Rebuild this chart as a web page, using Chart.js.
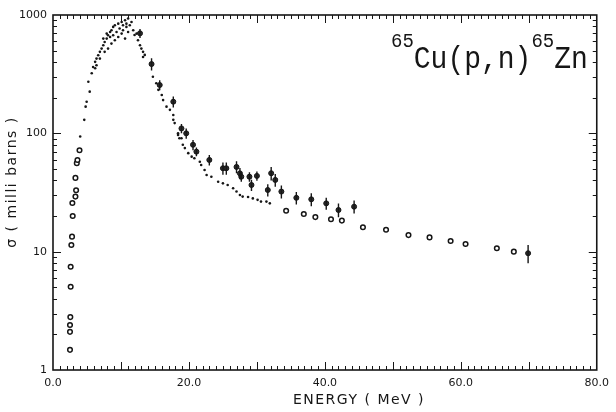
<!DOCTYPE html>
<html>
<head>
<meta charset="utf-8">
<script src="https://cdn.jsdelivr.net/npm/chart.js@4/dist/chart.umd.min.js"></script>
<style>
  html, body { margin: 0; padding: 0; background: #fff; }
</style>
</head>
<body>
<canvas id="xsChart" width="616" height="412"></canvas>
<script>
// 65Cu(p,n)65Zn excitation function
// energy in MeV, cross section in mb

// small dots (dense data set)
const dotEnergy = [4.0, 4.6, 4.8, 4.95, 5.2, 5.4, 5.7, 5.9, 6.2, 6.2, 6.4, 6.4, 6.65, 6.9, 6.9, 7.15, 7.4, 7.4, 7.6, 7.6,
  7.9, 7.9, 8.1, 8.1, 8.4, 8.4, 8.6, 8.6, 8.85, 8.85, 9.1, 9.1, 9.35, 9.6, 9.6, 9.8, 10.1, 10.1, 10.3, 10.3,
  10.6, 10.6, 10.8, 10.8, 11.05, 11.05, 11.3, 11.55, 11.8, 12.0, 12.3, 12.5, 12.8, 13.0, 13.25, 13.25, 13.5, 14.7, 15.2, 15.5,
  16.0, 16.2, 16.7, 17.2, 17.7, 17.7, 17.9, 18.4, 18.4, 18.6, 18.9, 19.1, 19.4, 19.9, 20.4, 20.8, 21.6, 21.8, 22.3, 22.6,
  23.3, 24.3, 25.0, 25.7, 26.5, 27.0, 27.5, 27.9, 28.7, 29.4, 30.1, 30.6, 31.4, 31.9];
const dotSigma = [94, 130, 168, 185, 273, 225, 322, 364, 355, 402, 428, 376, 457, 488, 428, 520, 555, 632, 592, 488,
  632, 696, 674, 520, 719, 652, 743, 573, 793, 674, 819, 611, 719, 845, 652, 768, 873, 696, 819, 743,
  902, 632, 845, 793, 933, 719, 819, 873, 743, 678, 696, 611, 555, 520, 488, 442, 460, 301, 265, 233,
  211, 191, 168, 158, 143, 130, 122, 97, 100, 91, 91, 80, 75, 68, 63.5, 61.5, 57.6, 54, 49, 44.5,
  43, 39, 37.8, 36.6, 34.3, 32.2, 30.1, 29.2, 29, 28.2, 27.4, 26.5, 26.5, 25.6];

// open circles
const circEnergy = [2.5, 2.5, 2.5, 2.55, 2.6, 2.6, 2.7, 2.8, 2.9, 2.85, 3.3, 3.4, 3.3, 3.5, 3.6, 3.9,
  34.3, 36.9, 38.6, 40.9, 42.5, 45.6, 49.0, 52.3, 55.4, 58.5, 60.7, 65.3, 67.8];
const circSigma = [1.48, 2.1, 2.4, 2.8, 5.06, 7.46, 11.4, 13.4, 20, 25.8, 29.2, 33, 42, 56, 59.5, 72,
  22.2, 20.8, 19.6, 18.8, 18.3, 16.1, 15.3, 13.8, 13.2, 12.3, 11.6, 10.7, 10.0];

// points with error bars
const barEnergy = [12.8, 14.5, 15.7, 17.7, 18.9, 19.6, 20.6, 21.1, 23.0, 25.0, 25.5, 27.0, 27.5, 27.7,
  28.9, 30.0, 29.2, 32.1, 32.7, 31.6, 33.6, 35.8, 38.0, 40.2, 42.0, 44.3, 69.9];
const barSigma = [700, 385, 256, 185, 110, 100, 80, 70, 59.6, 50.7, 50.7, 52, 45.9, 43,
  43, 43.7, 36.6, 46, 40.4, 33.2, 32.2, 28.5, 27.7, 25.6, 22.5, 24, 9.7];
const barError = [60, 45, 25, 20, 10, 10, 8, 6, 6, 6, 6, 6, 5, 4,
  4, 4, 4, 6, 5, 4, 4, 3.5, 3.5, 3, 3, 3, 1.7];

// axis labels
const xTickLabels = ['0.0', '20.0', '40.0', '60.0', '80.0'];
const yTickLabels = ['1', '10', '100', '1000'];

const ink = '#161616';

function toPoints(xs, ys) {
  return xs.map((e, i) => ({ x: e, y: ys[i] }));
}

// vertical error bars for the third data set
const errorBars = {
  id: 'errorBars',
  afterDatasetsDraw(chart) {
    const { ctx, scales: { x, y } } = chart;
    ctx.save();
    ctx.strokeStyle = ink;
    ctx.lineWidth = 1.4;
    ctx.beginPath();
    barEnergy.forEach((e, i) => {
      const px = x.getPixelForValue(e);
      ctx.moveTo(px, y.getPixelForValue(barSigma[i] - barError[i]));
      ctx.lineTo(px, y.getPixelForValue(barSigma[i] + barError[i]));
    });
    ctx.stroke();
    ctx.restore();
  }
};

// box frame with inward ticks on all sides, titles and reaction label
const axisFrame = {
  id: 'axisFrame',
  afterDraw(chart) {
    const { ctx, chartArea: a, scales: { x, y } } = chart;
    ctx.save();
    ctx.strokeStyle = ink;
    ctx.lineWidth = 1.6;
    ctx.strokeRect(a.left, a.top, a.right - a.left, a.bottom - a.top);

    ctx.lineWidth = 1;
    ctx.beginPath();
    for (let e = 1; e < 80; e++) {
      const px = Math.round(x.getPixelForValue(e)) + 0.5;
      const len = e % 10 === 0 ? 8 : 4;
      ctx.moveTo(px, a.bottom); ctx.lineTo(px, a.bottom - len);
      ctx.moveTo(px, a.top); ctx.lineTo(px, a.top + len);
    }
    [1, 10, 100].forEach(d => {
      for (let k = 1; k <= 9; k++) {
        const v = d * k;
        if (v === 1) continue;
        const py = Math.round(y.getPixelForValue(v)) + 0.5;
        const len = k === 1 ? 8 : 4;
        ctx.moveTo(a.left, py); ctx.lineTo(a.left + len, py);
        ctx.moveTo(a.right, py); ctx.lineTo(a.right - len, py);
      }
    });
    ctx.stroke();

    ctx.fillStyle = ink;
    ctx.letterSpacing = '1.5px';
    ctx.font = '14px "DejaVu Sans"';
    ctx.textAlign = 'center';
    ctx.textBaseline = 'middle';
    ctx.fillText('ENERGY ( MeV )', 359, 400);

    ctx.save();
    ctx.translate(12, 182);
    ctx.rotate(-Math.PI / 2);
    ctx.fillText('\u03c3 ( milli barns )', 0, 0);
    ctx.restore();

    // reaction label, typewriter style
    ctx.letterSpacing = '0px';
    ctx.textAlign = 'left';
    ctx.textBaseline = 'alphabetic';
    const sup = '19px "Liberation Mono"';
    const main = '28px "Liberation Mono"';
    let cx = 391;
    const parts = [['65', sup, 47], ['Cu(p,n)', main, 68], ['65', sup, 47], ['Zn', main, 68]];
    parts.forEach(([t, f, base]) => {
      ctx.font = f;
      ctx.save();
      ctx.translate(cx, base);
      ctx.scale(1, f === main ? 1.12 : 1.05);
      ctx.fillText(t, 0, 0);
      ctx.restore();
      cx += ctx.measureText(t).width;
    });
    ctx.restore();
  }
};

const ctx = document.getElementById('xsChart').getContext('2d');
const xsChart = new Chart(ctx, {
  type: 'scatter',
  data: {
    datasets: [
      {
        label: 'error bars',
        data: toPoints(barEnergy, barSigma),
        pointRadius: 2.5,
        pointBackgroundColor: '#2a2a2a',
        pointBorderColor: ink,
        pointBorderWidth: 1
      },
      {
        label: 'circles',
        data: toPoints(circEnergy, circSigma),
        pointRadius: 2.3,
        pointBackgroundColor: '#ffffff',
        pointBorderColor: ink,
        pointBorderWidth: 1.5
      },
      {
        label: 'dots',
        data: toPoints(dotEnergy, dotSigma),
        pointRadius: 1.3,
        pointBackgroundColor: ink,
        pointBorderColor: ink,
        pointBorderWidth: 0
      }
    ]
  },
  options: {
    responsive: false,
    animation: false,
    layout: { padding: { left: 0, right: 18, top: 15, bottom: 0 } },
    plugins: {
      legend: { display: false },
      tooltip: { enabled: false }
    },
    scales: {
      x: {
        type: 'linear',
        min: 0,
        max: 80,
        grid: { display: false, drawTicks: false },
        border: { display: false },
        afterFit(scale) { scale.height = 42; },
        ticks: {
          stepSize: 20,
          padding: 7,
          maxRotation: 0,
          color: ink,
          font: { family: 'DejaVu Sans', size: 11 },
          callback: (v) => xTickLabels[v / 20] || ''
        }
      },
      y: {
        type: 'logarithmic',
        min: 1,
        max: 1000,
        grid: { display: false, drawTicks: false },
        border: { display: false },
        afterFit(scale) { scale.width = 53; },
        ticks: {
          autoSkip: false,
          padding: 6,
          color: ink,
          font: { family: 'DejaVu Sans', size: 11 },
          callback: (v) => {
            const i = yTickLabels.indexOf(String(v));
            return i >= 0 ? yTickLabels[i] : '';
          }
        }
      }
    }
  },
  plugins: [errorBars, axisFrame]
});
</script>
</body>
</html>
